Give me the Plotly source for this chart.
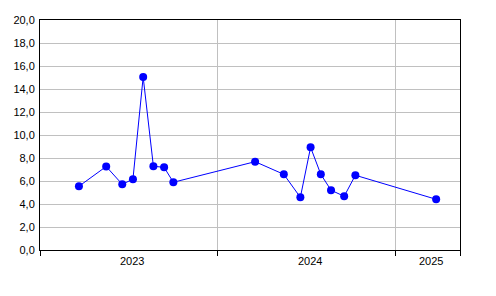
import plotly.graph_objects as go

dates = ["2023-03-22", "2023-05-17", "2023-06-19", "2023-07-11", "2023-08-01",
         "2023-08-22", "2023-09-13", "2023-10-02", "2024-03-18", "2024-05-16",
         "2024-06-19", "2024-07-10", "2024-07-31", "2024-08-21", "2024-09-17",
         "2024-10-10", "2025-03-25"]
values = [5.54, 7.26, 5.71, 6.16, 15.04, 7.28, 7.19, 5.89, 7.68, 6.58,
          4.58, 8.93, 6.58, 5.2, 4.67, 6.5, 4.41]

year_labels = ["2023", "2024", "2025"]
year_label_pos = ["2023-07-10", "2024-07-08", "2025-03-15"]
x_ticks = ["2023-01-01", "2024-01-01", "2025-01-01", "2025-05-13"]
x_range = ["2023-01-01", "2025-05-13"]

font = dict(family="Liberation Sans, Arial, sans-serif", size=11, color="black")

fig = go.Figure()
fig.add_trace(go.Scatter(
    x=dates, y=values, mode="lines+markers",
    line=dict(color="#0000FF", width=1),
    marker=dict(color="#0000FF", size=8),
    showlegend=False,
))

fig.update_layout(
    width=496, height=296,
    margin=dict(l=40, r=36, t=20, b=46),
    paper_bgcolor="white", plot_bgcolor="white",
    font=font,
    separators=", ",
    xaxis=dict(
        type="date", range=x_range,
        tickmode="array", tickvals=x_ticks, ticktext=["" for _ in x_ticks],
        ticks="outside", ticklen=5, tickcolor="black", tickwidth=1,
        showgrid=True, gridcolor="#C0C0C0", gridwidth=1,
        showline=True, linecolor="black", linewidth=1, mirror=True,
        zeroline=False,
    ),
    yaxis=dict(
        range=[0, 20], dtick=2, tickformat=".1f",
        ticks="", showgrid=True, gridcolor="#C0C0C0", gridwidth=1,
        showline=True, linecolor="black", linewidth=1, mirror=True,
        zeroline=False, ticklabelstandoff=2,
    ),
)

for lbl, pos in zip(year_labels, year_label_pos):
    fig.add_annotation(x=pos, y=0, xref="x", yref="paper", text=lbl,
                       showarrow=False, yanchor="top", yshift=-3, font=font)

fig.write_html("out.html")
